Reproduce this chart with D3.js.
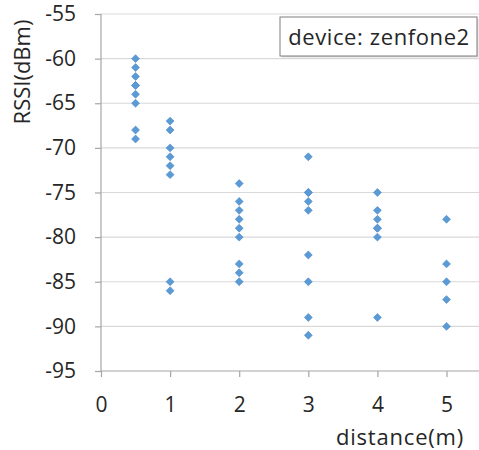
<!DOCTYPE html>
<html>
<head>
<meta charset="utf-8">
<script src="https://cdn.jsdelivr.net/npm/d3@7"></script>
<style>
  body { margin: 0; background: #fff; }
  text { font-family: "Open Sans", sans-serif; fill: #262626; }
</style>
</head>
<body>
<svg id="chart" width="479" height="450"></svg>
<script>
// distance (m) of each column and the RSSI readings measured there
const distances = [0.5, 1, 2, 3, 4, 5];
const rssi = [
  [-60, -61, -62, -63, -63, -64, -65, -68, -69],
  [-67, -68, -70, -71, -72, -73, -85, -86],
  [-74, -76, -77, -78, -79, -80, -83, -84, -85],
  [-71, -75, -75, -76, -77, -82, -85, -89, -91],
  [-75, -77, -78, -79, -79, -80, -89],
  [-78, -83, -85, -87, -90]
];
const xTicks = [0, 1, 2, 3, 4, 5];
const yTicks = [-55, -60, -65, -70, -75, -80, -85, -90, -95];
const legendText = "device: zenfone2";

const points = [];
distances.forEach((d, i) => rssi[i].forEach(v => points.push({ d, v })));

const svg = d3.select("#chart");
const margin = { top: 14, right: 0, bottom: 79, left: 101 };
const width = 479 - margin.left - margin.right;
const height = 450 - margin.top - margin.bottom;

const x = d3.scaleLinear().domain([0, 5.47]).range([0, width]);
const y = d3.scaleLinear().domain([-95, -55]).range([height, 0]);

const g = svg.append("g").attr("transform", `translate(${margin.left},${margin.top})`);

// horizontal gridlines
g.selectAll(".grid")
  .data(yTicks.filter(t => t !== -95))
  .enter().append("line")
  .attr("x1", 0).attr("x2", width)
  .attr("y1", d => y(d)).attr("y2", d => y(d))
  .attr("stroke", "#d9d9d9").attr("stroke-width", 1.2);

// plain hyphen for negatives, like the spreadsheet labels
const plain = d => String(d);
const yAxis = g.append("g")
  .call(d3.axisLeft(y).tickValues(yTicks).tickSize(6).tickPadding(19).tickFormat(plain));
const xAxis = g.append("g")
  .attr("transform", `translate(0,${height})`)
  .call(d3.axisBottom(x).tickValues(xTicks).tickSize(6).tickPadding(20).tickFormat(plain));

[yAxis, xAxis].forEach(a => {
  a.select(".domain").attr("stroke", "#a6a6a6").attr("stroke-width", 1.2);
  a.selectAll(".tick line").attr("stroke", "#a6a6a6").attr("stroke-width", 1.2);
  a.selectAll(".tick text")
    .style("font-family", '"Open Sans", sans-serif')
    .style("font-size", "21px").attr("fill", "#262626");
});
xAxis.select(".domain").attr("d", `M0,0H${width}`);
yAxis.select(".domain").attr("d", `M0,0V${height}`);

// diamond markers
const diamond = d3.symbol().type(d3.symbolDiamond2).size(40);
g.selectAll(".pt")
  .data(points)
  .enter().append("path")
  .attr("d", diamond)
  .attr("transform", p => `translate(${x(p.d)},${y(p.v)})`)
  .attr("fill", "#5b9bd5")
  .attr("stroke", "#4a86c8").attr("stroke-width", 0.6);

// axis titles
svg.append("text")
  .attr("transform", "translate(30,72) rotate(-90)")
  .attr("text-anchor", "middle")
  .style("font-size", "22px")
  .text("RSSI(dBm)");

svg.append("text")
  .attr("x", 400).attr("y", 445)
  .attr("text-anchor", "middle")
  .style("font-size", "22px")
  .style("letter-spacing", "0.8px")
  .text("distance(m)");

// device label box
const lg = svg.append("g").attr("transform", "translate(280,17)");
lg.append("rect")
  .attr("x", 1.5).attr("y", 1.5).attr("width", 197).attr("height", 39)
  .attr("fill", "#d9d9d9");
lg.append("rect")
  .attr("width", 197).attr("height", 39)
  .attr("fill", "#fff").attr("stroke", "#7f7f7f").attr("stroke-width", 1);
lg.append("text")
  .attr("x", 99).attr("y", 28)
  .attr("text-anchor", "middle")
  .style("font-size", "22px")
  .style("letter-spacing", "0.6px")
  .text(legendText);
</script>
</body>
</html>
